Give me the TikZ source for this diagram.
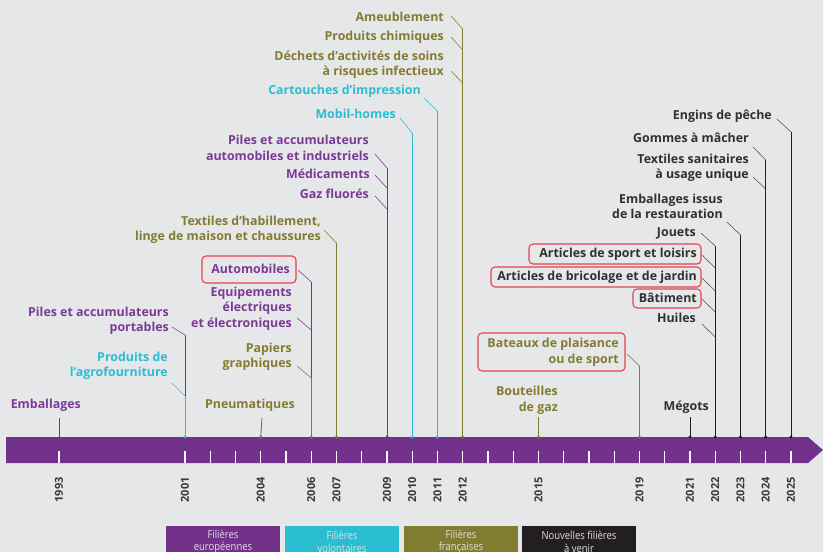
\documentclass[tikz,border=0pt]{standalone}
\usepackage{fontspec}
\setmainfont{Open Sans}
\newcommand\lblfont{\bfseries}
\newfontfamily\legfont{Open Sans}[FakeStretch=0.86]
\definecolor{bg}{HTML}{E6E7E9}
\definecolor{cpur}{HTML}{72318A}
\definecolor{tpur}{HTML}{7A3A95}
\definecolor{ccya}{HTML}{2BBDD1}
\definecolor{coli}{HTML}{827C31}
\definecolor{tdark}{HTML}{303030}
\definecolor{cblk}{HTML}{231F20}
\definecolor{cred}{HTML}{E8414B}
\definecolor{cyear}{HTML}{3A3A3A}
\tikzset{
  lbl/.style={font=\lblfont\fontsize{12.4}{15.5}\selectfont, align=right, anchor=east, inner sep=0pt},
  tp/.style={text=tpur}, tc/.style={text=ccya}, to/.style={text=coli}, tk/.style={text=tdark},
  lead/.style={line width=0.55pt},
  stem/.style={line width=0.9pt},
  redbox/.style={draw=cred, line width=1.1pt, rounded corners=4pt},
  yr/.style={font=\lblfont\fontsize{11}{11}\selectfont, text=cyear, rotate=90, anchor=east, inner sep=0pt},
  yeartick/.style={white, line width=1.3pt},
  legbox/.style={font=\legfont\fontsize{11}{12.5}\selectfont, text=white!88!black, align=center,
    minimum width=114pt, minimum height=31pt, anchor=north, inner sep=0pt},
}
\begin{document}
\begin{tikzpicture}[x=1pt,y=-1pt]
\fill[bg] (0,0) rectangle (823,552);
\useasboundingbox (0,0) rectangle (823,552);

% ---- timeline bar
\fill[cpur] (6,437) -- (808,437) -- (823,450) -- (808,463) -- (6,463) -- cycle;
\draw[yeartick] (59,451) -- (59,463);
\foreach \y in {2001,...,2025}{
  \draw[yeartick] ({185+25.25*(\y-2001)},451) -- ++(0,12);
}

% ---- year labels
\node[yr] (y1993) at (59,477) {1993};
\foreach \y in {2001,2004,2006,2007,2009,2010,2011,2012,2015,2019,2021,2022,2023,2024,2025}{
  \node[yr] (y\y) at ({185+25.25*(\y-2001)},477) {\y};
}

% ---- bar anchor points
\coordinate (d1993) at (59,437);
\foreach \y in {2001,2004,2006,2007,2009,2010,2011,2012,2015,2019,2021,2022,2023,2024,2025}{
  \coordinate (d\y) at ({185+25.25*(\y-2001)},437);
}

% ---- labels
\node[lbl,to] (ame) at (444,17) {Ameublement};
\node[lbl,to] (chim) at (444,37) {Produits chimiques};
\node[lbl,to] (dasri) at (444,64.5) {Déchets d’activités de soins\\à risques infectieux};
\node[lbl,tc] (cart) at (421,91) {Cartouches d’impression};
\node[lbl,tc] (mobil) at (396,114) {Mobil-homes};
\node[lbl,tp] (pilesai) at (369,148) {Piles et accumulateurs\\automobiles et industriels};
\node[lbl,tp] (medic) at (370,174) {Médicaments};
\node[lbl,tp] (gaz) at (369,194) {Gaz fluorés};
\node[lbl,to] (texhab) at (321,230) {Textiles d’habillement,\\linge de maison et chaussures};
\node[lbl,tp] (auto) at (290,269) {Automobiles};
\node[lbl,tp] (eee) at (292,308.5) {Equipements\\électriques\\et électroniques};
\node[lbl,to] (papiers) at (292,357) {Papiers\\graphiques};
\node[lbl,tp] (pilesp) at (169,321) {Piles et accumulateurs\\portables};
\node[lbl,tc] (agro) at (168,366) {Produits de\\l’agrofourniture};
\node[lbl,tp] (emb) at (81,405) {Emballages};
\node[lbl,to] (pneu) at (295,405) {Pneumatiques};
\node[lbl,to] (bout) at (558,400.5) {Bouteilles\\de gaz};
\node[lbl,to] (bateaux) at (619,352.5) {Bateaux de plaisance\\ou de sport};
\node[lbl,tk] (megots) at (709,407) {Mégots};
\node[lbl,tk] (engins) at (772,116) {Engins de pêche};
\node[lbl,tk] (gommes) at (749,138) {Gommes à mâcher};
\node[lbl,tk] (texsan) at (749,168) {Textiles sanitaires\\à usage unique};
\node[lbl,tk] (resto) at (723,206.5) {Emballages issus\\de la restauration};
\node[lbl,tk] (jouets) at (696,233) {Jouets};
\node[lbl,tk] (sport) at (697,254) {Articles de sport et loisirs};
\node[lbl,tk] (brico) at (697,277) {Articles de bricolage et de jardin};
\node[lbl,tk] (bat) at (697,298) {Bâtiment};
\node[lbl,tk] (huiles) at (696,318) {Huiles};

% ---- red boxes
\draw[redbox] (202,256) rectangle (296,283);
\draw[redbox] (529,244) rectangle (701,264);
\draw[redbox] (491,267) rectangle (701,287);
\draw[redbox] (633,289) rectangle (701,308);
\draw[redbox] (478,333) rectangle (625,371);

% ---- leader coordinates (start, join)
\coordinate (s-ame) at (451,16);   \coordinate (j-ame) at (462.75,29);
\coordinate (s-chim) at (451,37);  \coordinate (j-chim) at (462.75,50);
\coordinate (s-dasri) at (451,71); \coordinate (j-dasri) at (462.75,83);
\coordinate (s-cart) at (424,98);  \coordinate (j-cart) at (437.5,111);
\coordinate (s-mobil) at (400,118); \coordinate (j-mobil) at (412.25,133);
\coordinate (s-pilesai) at (375,154); \coordinate (j-pilesai) at (387,168);
\coordinate (s-medic) at (375,175); \coordinate (j-medic) at (387,188);
\coordinate (s-gaz) at (375,196);   \coordinate (j-gaz) at (387,209);
\coordinate (s-texhab) at (324,230); \coordinate (j-texhab) at (336.5,243);
\coordinate (s-auto) at (298,270);  \coordinate (j-auto) at (311.25,282);
\coordinate (s-eee) at (297,318);   \coordinate (j-eee) at (311.25,330);
\coordinate (s-papiers) at (297,366); \coordinate (j-papiers) at (311.25,378);
\coordinate (s-pilesp) at (172,327); \coordinate (j-pilesp) at (185,335);
\coordinate (s-agro) at (172,383);  \coordinate (j-agro) at (185,396);
\coordinate (s-bateaux) at (627,354); \coordinate (j-bateaux) at (639.5,366);
\coordinate (s-engins) at (777,119); \coordinate (j-engins) at (791,132);
\coordinate (s-gommes) at (753,147); \coordinate (j-gommes) at (765.75,160);
\coordinate (s-texsan) at (753,177); \coordinate (j-texsan) at (765.75,189);
\coordinate (s-resto) at (727,222); \coordinate (j-resto) at (740.5,235);
\coordinate (s-jouets) at (701,233); \coordinate (j-jouets) at (715.25,246);
\coordinate (s-sport) at (702,255); \coordinate (j-sport) at (715.25,268);
\coordinate (s-brico) at (702,278); \coordinate (j-brico) at (715.25,291);
\coordinate (s-bat) at (702,299);   \coordinate (j-bat) at (715.25,312);
\coordinate (s-huiles) at (702,324); \coordinate (j-huiles) at (715.25,337);
\coordinate (t-emb) at (59,418);
\coordinate (t-pneu) at (262,418);
\coordinate (t-bout) at (538.5,417);
\coordinate (t-megots) at (690,417);

% ---- diagonal leaders
\foreach \n in {ame,chim,dasri,texhab,papiers,bateaux}{\draw[lead,coli] (s-\n) -- (j-\n);}
\foreach \n in {cart,mobil,agro}{\draw[lead,ccya] (s-\n) -- (j-\n);}
\foreach \n in {pilesai,medic,gaz,auto,eee,pilesp}{\draw[lead,tpur] (s-\n) -- (j-\n);}
\foreach \n in {engins,gommes,texsan,resto,jouets,sport,brico,bat,huiles}{\draw[lead,tdark!85] (s-\n) -- (j-\n);}

% ---- stems
\draw[stem,coli] (j-ame) -- (d2012);
\draw[stem,ccya] (j-cart) -- (d2011);
\draw[stem,ccya] (j-mobil) -- (d2010);
\draw[stem,cpur] (j-pilesai) -- (d2009);
\draw[stem,coli] (j-texhab) -- (d2007);
\draw[stem,cpur] (j-auto) -- (j-papiers);
\draw[stem,coli] (j-papiers) -- (d2006);
\draw[stem,cpur] (j-pilesp) -- (j-agro);
\draw[stem,ccya] (j-agro) -- (d2001);
\draw[stem,cpur] (t-emb) -- (d1993);
\draw[stem,coli] (t-pneu) -- (d2004);
\draw[stem,coli] (t-bout) -- (d2015);
\draw[stem,coli] (j-bateaux) -- (d2019);
\draw[stem,cblk] (t-megots) -- (d2021);
\draw[stem,cblk] (j-jouets) -- (d2022);
\draw[stem,cblk] (j-resto) -- (d2023);
\draw[stem,cblk] (j-gommes) -- (d2024);
\draw[stem,cblk] (j-engins) -- (d2025);

% ---- dots
\foreach \y in {2004,2006,2007,2012,2015,2019}{\fill[coli] (d\y) circle (1.6);}
\foreach \y in {2001,2010,2011}{\fill[ccya] (d\y) circle (1.6);}
\fill[cpur] (d2009) circle (1.6);
\foreach \y in {2021,2022,2023,2024,2025}{\fill[cblk] (d\y) circle (1.6);}

% ---- legend
\node[legbox, fill=cpur] (leg1) at (223,526) {Filières\\européennes};
\node[legbox, fill=ccya] (leg2) at (342,526) {Filières\\volontaires};
\node[legbox, fill=coli] (leg3) at (461,526) {Filières\\françaises};
\node[legbox, fill=cblk] (leg4) at (579,526) {Nouvelles filières\\à venir};
\end{tikzpicture}
\end{document}
